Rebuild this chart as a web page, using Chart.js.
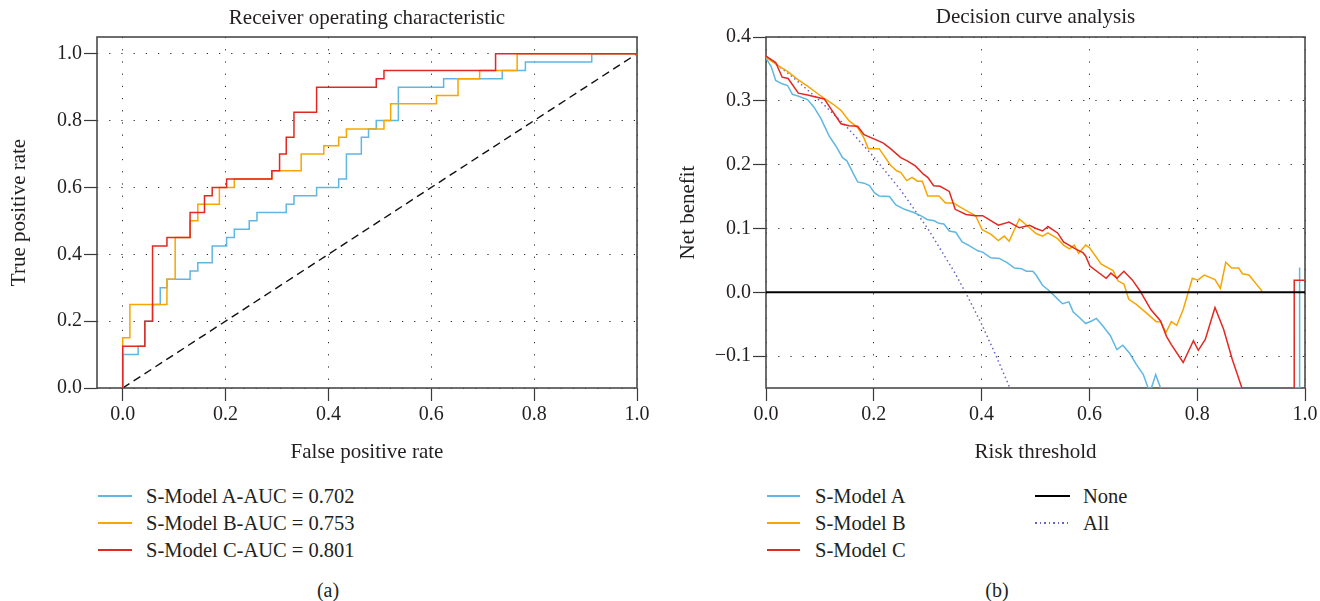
<!DOCTYPE html>
<html>
<head>
<meta charset="utf-8">
<script src="https://cdn.jsdelivr.net/npm/chart.js@4.4.1/dist/chart.umd.min.js"></script>
<style>
  body { margin: 0; background: #fff; }
  #wrap { position: relative; width: 1320px; height: 601px; overflow: hidden; font-family: 'Liberation Serif', serif; color: #231f20; }
  canvas { position: absolute; top: 0; }
  .row { position: absolute; height: 24px; line-height: 24px; font-size: 20.5px; white-space: nowrap; }
  .sw { position: absolute; top: 11px; height: 2px; }
  .txt { position: absolute; top: 0; }
  .sub { position: absolute; font-size: 20px; transform: translate(-50%, -50%); }
</style>
</head>
<body>
<div id="wrap">
  <canvas id="roc" width="660" height="470" style="left:0"></canvas>
  <canvas id="dca" width="660" height="470" style="left:660px"></canvas>
  <div class="sub" style="left:328px; top:590px">(a)</div>
  <div class="sub" style="left:997px; top:590px">(b)</div>
</div>
<script>
const FONT = "'Liberation Serif', serif";
const INK = '#231f20';
const colA = 'rgb(95,183,226)';
const colB = 'rgb(247,166,0)';
const colC = 'rgb(226,40,34)';
const colAll = 'rgb(100,100,200)';

// ROC: knots of the step curves (false positive rate, true positive rate)
const rocLabels = ['S-Model A-AUC = 0.702', 'S-Model B-AUC = 0.753', 'S-Model C-AUC = 0.801'];
const fprA = [0, 0, 0.030, 0.043, 0.058, 0.073, 0.086, 0.131, 0.146, 0.174, 0.202, 0.217, 0.246, 0.261, 0.318, 0.333, 0.377, 0.42, 0.435, 0.464, 0.478, 0.493, 0.536, 0.624, 0.738, 0.783, 0.912, 1.0];
const tprA = [0, 0.10, 0.125, 0.2, 0.25, 0.30, 0.325, 0.35, 0.375, 0.425, 0.45, 0.475, 0.5, 0.525, 0.55, 0.575, 0.6, 0.625, 0.70, 0.75, 0.775, 0.80, 0.90, 0.925, 0.95, 0.975, 1.0, 1.0];
const fprB = [0, 0, 0.014, 0.086, 0.102, 0.131, 0.146, 0.188, 0.217, 0.29, 0.347, 0.391, 0.42, 0.435, 0.508, 0.521, 0.61, 0.652, 0.694, 0.767, 1.0];
const tprB = [0, 0.15, 0.25, 0.325, 0.45, 0.5, 0.55, 0.6, 0.625, 0.65, 0.7, 0.725, 0.75, 0.775, 0.8, 0.85, 0.875, 0.925, 0.95, 1.0, 1.0];
const fprC = [0, 0, 0.043, 0.058, 0.086, 0.131, 0.159, 0.174, 0.202, 0.29, 0.305, 0.318, 0.333, 0.377, 0.493, 0.508, 0.725, 1.0];
const tprC = [0, 0.125, 0.2, 0.425, 0.45, 0.525, 0.575, 0.6, 0.625, 0.65, 0.70, 0.75, 0.825, 0.90, 0.925, 0.95, 1.0, 1.0];
const chanceX = [0, 1];
const chanceY = [0, 1];
const rocTicks = [0, 0.2, 0.4, 0.6, 0.8, 1.0];

// DCA: net benefit against risk threshold
const dcaLabels = ['S-Model A', 'S-Model B', 'S-Model C', 'None', 'All'];
const dcaXA = [0, 0.01, 0.018, 0.029, 0.04, 0.049, 0.058, 0.077, 0.089, 0.102, 0.117, 0.129, 0.142, 0.15, 0.159, 0.17, 0.182, 0.192, 0.201, 0.21, 0.229, 0.241, 0.257, 0.274, 0.287, 0.299, 0.312, 0.321, 0.33, 0.34, 0.352, 0.364, 0.377, 0.393, 0.402, 0.417, 0.433, 0.448, 0.461, 0.474, 0.483, 0.495, 0.501, 0.513, 0.526, 0.538, 0.55, 0.562, 0.57, 0.582, 0.593, 0.604, 0.613, 0.625, 0.639, 0.651, 0.662, 0.675, 0.687, 0.7, 0.709, 0.715, 0.723, 0.732, 0.98, 0.99, 0.99];
const dcaYA = [0.367, 0.353, 0.332, 0.327, 0.324, 0.31, 0.308, 0.302, 0.29, 0.272, 0.245, 0.23, 0.211, 0.206, 0.191, 0.173, 0.171, 0.167, 0.156, 0.151, 0.15, 0.137, 0.13, 0.125, 0.12, 0.114, 0.112, 0.108, 0.107, 0.096, 0.094, 0.079, 0.073, 0.065, 0.063, 0.054, 0.053, 0.046, 0.038, 0.037, 0.033, 0.033, 0.027, 0.011, 0.002, -0.008, -0.018, -0.015, -0.031, -0.04, -0.049, -0.045, -0.041, -0.053, -0.068, -0.09, -0.083, -0.096, -0.113, -0.129, -0.15, -0.15, -0.129, -0.15, -0.15, -0.15, 0.039];
const dcaXB = [0, 0.021, 0.04, 0.058, 0.077, 0.093, 0.108, 0.124, 0.139, 0.154, 0.17, 0.181, 0.19, 0.21, 0.231, 0.243, 0.25, 0.261, 0.271, 0.281, 0.29, 0.3, 0.321, 0.333, 0.348, 0.361, 0.389, 0.401, 0.417, 0.431, 0.442, 0.451, 0.47, 0.486, 0.501, 0.513, 0.523, 0.541, 0.552, 0.563, 0.572, 0.58, 0.593, 0.6, 0.622, 0.644, 0.653, 0.664, 0.673, 0.687, 0.705, 0.724, 0.732, 0.742, 0.752, 0.762, 0.774, 0.791, 0.801, 0.813, 0.833, 0.843, 0.853, 0.864, 0.877, 0.884, 0.896, 0.921];
const dcaYB = [0.368, 0.356, 0.346, 0.334, 0.323, 0.313, 0.304, 0.295, 0.285, 0.269, 0.258, 0.243, 0.225, 0.225, 0.199, 0.19, 0.188, 0.175, 0.18, 0.174, 0.174, 0.151, 0.151, 0.14, 0.14, 0.133, 0.12, 0.098, 0.091, 0.081, 0.088, 0.08, 0.115, 0.103, 0.092, 0.088, 0.093, 0.084, 0.074, 0.068, 0.074, 0.061, 0.074, 0.07, 0.044, 0.034, 0.018, 0.013, -0.011, -0.019, -0.032, -0.046, -0.046, -0.063, -0.046, -0.052, -0.027, 0.022, 0.019, 0.027, 0.02, 0.006, 0.047, 0.038, 0.038, 0.029, 0.027, 0.001];
const dcaXC = [0, 0.018, 0.03, 0.041, 0.06, 0.077, 0.108, 0.139, 0.154, 0.17, 0.182, 0.217, 0.231, 0.25, 0.262, 0.277, 0.292, 0.3, 0.311, 0.323, 0.34, 0.351, 0.371, 0.388, 0.402, 0.431, 0.451, 0.47, 0.489, 0.501, 0.513, 0.523, 0.541, 0.552, 0.574, 0.588, 0.593, 0.601, 0.631, 0.64, 0.651, 0.664, 0.68, 0.694, 0.703, 0.714, 0.732, 0.743, 0.752, 0.774, 0.793, 0.802, 0.815, 0.833, 0.849, 0.865, 0.883, 0.98, 0.98, 0.999];
const dcaYC = [0.37, 0.36, 0.337, 0.335, 0.312, 0.309, 0.303, 0.264, 0.261, 0.26, 0.247, 0.234, 0.225, 0.211, 0.206, 0.198, 0.185, 0.18, 0.167, 0.166, 0.158, 0.13, 0.122, 0.12, 0.12, 0.105, 0.11, 0.101, 0.105, 0.1, 0.096, 0.103, 0.093, 0.079, 0.068, 0.062, 0.057, 0.041, 0.022, 0.03, 0.022, 0.033, 0.019, 0.002, -0.011, -0.027, -0.045, -0.069, -0.082, -0.11, -0.076, -0.091, -0.074, -0.024, -0.058, -0.105, -0.15, -0.15, 0.019, 0.019];
const noneX = [0, 1];
const noneY = [0, 0];
const allX = [0, 0.05, 0.1, 0.15, 0.2, 0.25, 0.3, 0.35, 0.375, 0.4, 0.425, 0.45, 0.46];
const allY = [0.37, 0.337, 0.30, 0.259, 0.212, 0.16, 0.10, 0.031, -0.008, -0.05, -0.096, -0.145, -0.166];
const dcaXTicks = [0, 0.2, 0.4, 0.6, 0.8, 1.0];
const dcaYTicks = [-0.1, 0, 0.1, 0.2, 0.3, 0.4];

function pts(xs, ys) {
  const n = Math.min(xs.length, ys.length);
  const out = [];
  for (let i = 0; i < n; i++) out.push({x: xs[i], y: ys[i]});
  return out;
}
// turn step knots into corner points (horizontal then vertical)
function steps(xs, ys) {
  const out = [{x: xs[0], y: ys[0]}];
  for (let i = 1; i < xs.length; i++) {
    out.push({x: xs[i], y: ys[i - 1]});
    out.push({x: xs[i], y: ys[i]});
  }
  return out;
}
function fmt(v) {
  return v.toFixed(1).replace('-', '\u2212');
}

function axis(min, max, ticks, title, titlePad, size, horizontal) {
  return {
    type: 'linear', min: min, max: max,
    afterBuildTicks: s => { s.ticks = ticks.map(v => ({value: v})); },
    afterFit: s => { if (horizontal) s.height = size; else s.width = size; },
    ticks: { font: {family: FONT, size: 20}, color: INK, padding: 2, maxRotation: 0, callback: v => fmt(v) },
    grid: { color: 'rgba(0,0,0,0.85)', lineWidth: 1, tickColor: '#3a3a3a', tickLength: 13, tickBorderDash: [], tickWidth: 1.2 },
    border: { display: false, dash: [1.2, 11] },
    title: { display: true, text: title, font: {family: FONT, size: 21}, color: INK, padding: titlePad }
  };
}

const panel = {
  id: 'panel',
  beforeDatasetsDraw(chart) {
    const {ctx, chartArea: a} = chart;
    ctx.save();
    ctx.strokeStyle = '#4a4a4a';
    ctx.lineWidth = 1.6;
    ctx.strokeRect(a.left, a.top, a.right - a.left, a.bottom - a.top);
    ctx.restore();
  },
  afterDraw(chart, args, opts) {
    const {ctx, chartArea: a} = chart;
    ctx.save();
    ctx.font = '21px ' + FONT;
    ctx.fillStyle = INK;
    ctx.textAlign = 'center';
    ctx.textBaseline = 'middle';
    ctx.fillText(opts.title, (a.left + a.right) / 2, opts.titleY);
    ctx.restore();
  }
};

function line(label, data, color, order, extra) {
  return Object.assign({
    label: label, data: data, borderColor: color, backgroundColor: color,
    borderWidth: 1.5, pointRadius: 0, tension: 0, fill: false, order: order
  }, extra || {});
}

new Chart(document.getElementById('roc'), {
  type: 'line',
  data: {
    datasets: [
      line(rocLabels[0], steps(fprA, tprA), colA, 3),
      line(rocLabels[1], steps(fprB, tprB), colB, 2),
      line(rocLabels[2], steps(fprC, tprC), colC, 1),
      line('chance', pts(chanceX, chanceY), '#111', 4, {borderDash: [8, 5], borderWidth: 1.4})
    ]
  },
  options: {
    responsive: false, animation: false, devicePixelRatio: 1,
    layout: { padding: {top: 37, right: 23, left: 0, bottom: 0} },
    plugins: { legend: {display: false}, tooltip: {enabled: false}, panel: {title: 'Receiver operating characteristic', titleY: 18} },
    scales: {
      x: axis(-0.05, 1.0, rocTicks, 'False positive rate', {top: 0, bottom: 5}, 82, true),
      y: axis(0, 1.05, rocTicks, 'True positive rate', {top: 7, bottom: 0}, 97, false)
    }
  },
  plugins: [panel]
});

new Chart(document.getElementById('dca'), {
  type: 'line',
  data: {
    datasets: [
      line(dcaLabels[0], pts(dcaXA, dcaYA), colA, 3),
      line(dcaLabels[1], pts(dcaXB, dcaYB), colB, 2),
      line(dcaLabels[2], pts(dcaXC, dcaYC), colC, 1),
      line(dcaLabels[3], pts(noneX, noneY), '#000', 0, {borderWidth: 2.2}),
      line(dcaLabels[4], pts(allX, allY), colAll, 4, {borderDash: [1.5, 3]})
    ]
  },
  options: {
    responsive: false, animation: false, devicePixelRatio: 1,
    layout: { padding: {top: 37, right: 15, left: 0, bottom: 0} },
    plugins: { legend: {display: false}, tooltip: {enabled: false}, panel: {title: 'Decision curve analysis', titleY: 17} },
    scales: {
      x: axis(0, 1.0, dcaXTicks, 'Risk threshold', {top: 0, bottom: 5}, 82, true),
      y: axis(-0.15, 0.4, dcaYTicks, 'Net benefit', {top: 15.5, bottom: 0}, 106, false)
    }
  },
  plugins: [panel]
});

// legends below the panels
const wrap = document.getElementById('wrap');
function legendRow(left, swW, textLeft, cy, text, color, dotted) {
  const row = document.createElement('div');
  row.className = 'row';
  row.style.left = left + 'px';
  row.style.top = (cy - 12) + 'px';
  const sw = document.createElement('div');
  sw.className = 'sw';
  sw.style.left = '0px';
  sw.style.width = swW + 'px';
  if (dotted) {
    sw.style.backgroundImage = 'repeating-linear-gradient(to right, ' + color + ' 0 1.5px, transparent 1.5px 4.5px)';
  } else {
    sw.style.backgroundColor = color;
  }
  const tx = document.createElement('div');
  tx.className = 'txt';
  tx.style.left = (textLeft - left) + 'px';
  tx.textContent = text;
  row.appendChild(sw);
  row.appendChild(tx);
  wrap.appendChild(row);
}
const rowY = [496, 523, 550];
const modelCols = [colA, colB, colC];
modelCols.forEach((c, i) => legendRow(98, 34, 146, rowY[i], rocLabels[i], c, false));
modelCols.forEach((c, i) => legendRow(767, 33, 815, rowY[i], dcaLabels[i], c, false));
legendRow(1035, 35, 1083, rowY[0], dcaLabels[3], '#000', false);
legendRow(1035, 35, 1083, rowY[1], dcaLabels[4], colAll, true);
</script>
</body>
</html>
